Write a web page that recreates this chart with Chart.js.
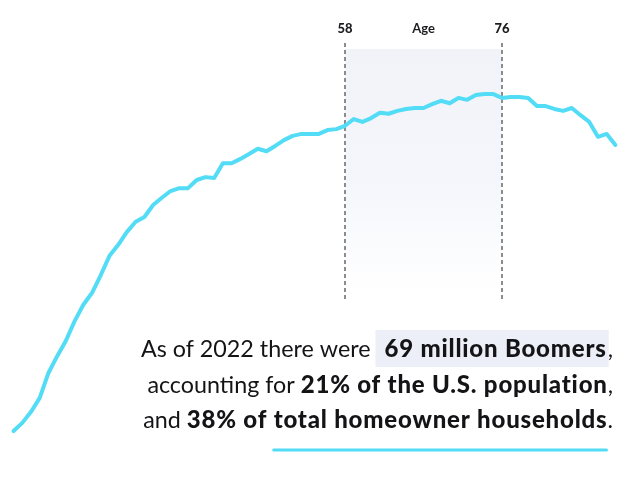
<!DOCTYPE html>
<html>
<head>
<meta charset="utf-8">
<script src="https://cdn.jsdelivr.net/npm/chart.js@4"></script>
<style>
  html, body { margin: 0; padding: 0; background: #ffffff; }
  #wrap { width: 640px; height: 480px; position: relative; }
  canvas { display: block; }
</style>
</head>
<body>
<div id="wrap"><canvas id="c" width="640" height="480"></canvas></div>
<script>
// Age (x) and homeownership-style rate (%)
const ages = [20,21,22,23,24,25,26,27,28,29,30,31,32,33,34,35,36,37,38,39,
  40,41,42,43,44,45,46,47,48,49,50,51,52,53,54,55,56,57,58,59,
  60,61,62,63,64,65,66,67,68,69,70,71,72,73,74,75,76,77,78,79,
  80,81,82,83,84,85,86,87,88,89];
const rates = [10.2,11.9,14.2,17.1,22.3,25.8,29.0,33.1,36.5,39.0,
  42.7,46.7,49.0,51.7,53.8,54.8,57.3,58.8,60.2,60.8,
  60.8,62.5,63.1,62.9,66.0,66.0,66.9,67.9,69.0,68.5,
  69.6,70.8,71.7,72.1,72.1,72.1,72.9,73.1,73.8,75.2,
  74.6,75.4,76.5,76.3,76.9,77.3,77.5,77.5,78.3,79.0,
  78.5,79.6,79.2,80.2,80.4,80.4,79.6,79.8,79.8,79.6,
  77.9,77.9,77.3,76.9,77.5,76.0,74.6,71.5,72.1,69.8];
const bandAges = [58, 76];
const bandTitle = "Age";
const textLines = [
  [{t:"As of 2022 there were ", b:false}, {t:"69 million Boomers", b:true, hl:true}, {t:",", b:false}],
  [{t:"accounting for ", b:false}, {t:"21% of the U.S. population", b:true}, {t:",", b:false}],
  [{t:"and ", b:false}, {t:"38% of ", b:true}, {t:"total homeowner households", b:true, ul:true}, {t:".", b:false}]
];

const points = ages.map((a, i) => ({x: a, y: rates[i]}));

const bandPlugin = {
  id: 'band',
  beforeDatasetsDraw(chart) {
    const ctx = chart.ctx;
    const xs = chart.scales.x;
    const x0 = xs.getPixelForValue(bandAges[0]);
    const x1 = xs.getPixelForValue(bandAges[1]);
    ctx.save();
    const g = ctx.createLinearGradient(0, 49, 0, 290);
    g.addColorStop(0, '#f1f3f9');
    g.addColorStop(0.55, '#f4f6fb');
    g.addColorStop(1, 'rgba(255,255,255,1)');
    ctx.fillStyle = g;
    ctx.fillRect(x0, 49, x1 - x0, 241);
    ctx.strokeStyle = '#8c8c8c';
    ctx.lineWidth = 2;
    ctx.setLineDash([4, 3]);
    [x0, x1].forEach(x => {
      ctx.beginPath();
      ctx.moveTo(Math.round(x), 43);
      ctx.lineTo(Math.round(x), 299);
      ctx.stroke();
    });
    ctx.setLineDash([]);
    ctx.fillStyle = '#1d1d1f';
    ctx.textAlign = 'center';
    ctx.textBaseline = 'alphabetic';
    ctx.font = '900 13px Lato';
    ctx.fillText(String(bandAges[0]), x0, 33);
    ctx.fillText(String(bandAges[1]), x1, 33);
    ctx.font = 'bold 13px Lato';
    ctx.fillText(bandTitle, (x0 + x1) / 2, 33);
    ctx.restore();
  },
  afterDraw(chart) {
    const ctx = chart.ctx;
    ctx.save();
    ctx.textBaseline = 'alphabetic';
    ctx.textAlign = 'left';
    const fReg = '23.3px Lato';
    const fBold = '900 24px Lato';
    const spReg = '0px';
    const spBold = '0.8px';
    const right = 613;
    const baselines = [357, 393, 428];
    const setF = (b) => {
      ctx.font = b ? fBold : fReg;
      if ('letterSpacing' in ctx) ctx.letterSpacing = b ? spBold : spReg;
    };
    textLines.forEach((runs, li) => {
      let total = 0;
      runs.forEach(r => {
        setF(r.b);
        r.w = ctx.measureText(r.t).width;
        total += r.w + (r.hl ? 9 : 0);
      });
      let x = right - total;
      const by = baselines[li];
      runs.forEach(r => {
        setF(r.b);
        if (r.hl) {
          ctx.fillStyle = '#eceff8';
          ctx.fillRect(x - 1, by - 27, r.w + 11, 37);
          x += 8;
        }
        ctx.fillStyle = '#141416';
        ctx.fillText(r.t, x, by);
        if (r.ul) {
          ctx.strokeStyle = '#52dcf6';
          ctx.lineWidth = 3;
          ctx.lineCap = 'round';
          ctx.beginPath();
          ctx.moveTo(x, by + 22);
          ctx.lineTo(x + r.w - 1, by + 22);
          ctx.stroke();
        }
        x += r.w + (r.hl ? 1 : 0);
      });
    });
    ctx.restore();
  }
};

new Chart(document.getElementById('c'), {
  type: 'line',
  data: {
    datasets: [{
      data: points,
      borderColor: '#52dcf6',
      borderWidth: 4,
      pointRadius: 0,
      tension: 0,
      borderCapStyle: 'round',
      borderJoinStyle: 'round',
      fill: false
    }]
  },
  options: {
    responsive: false,
    animation: false,
    layout: { padding: 0 },
    plugins: { legend: { display: false }, tooltip: { enabled: false } },
    scales: {
      x: { type: 'linear', min: 18.445, max: 91.82, display: false },
      y: { min: 0, max: 100, display: false }
    }
  },
  plugins: [bandPlugin]
});
</script>
</body>
</html>
